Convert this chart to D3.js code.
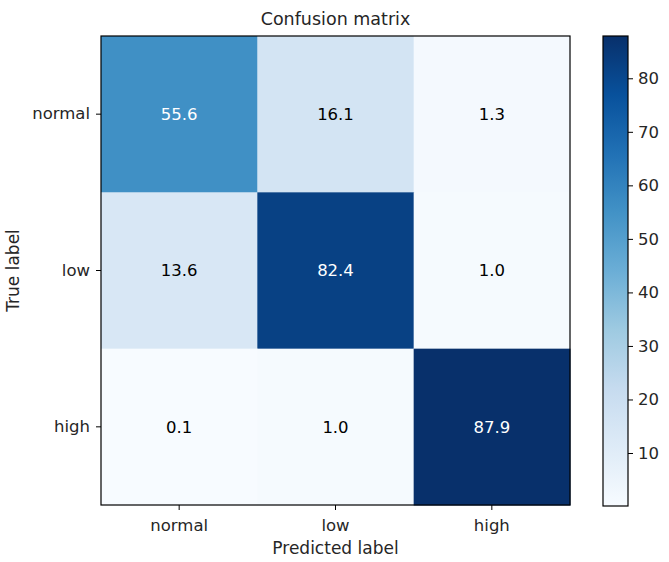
<!DOCTYPE html>
<html>
<head>
<meta charset="utf-8">
<script src="https://cdn.jsdelivr.net/npm/d3@7"></script>
<style>
  body { margin: 0; background: #fff; }
  text { font-family: "DejaVu Sans", sans-serif; fill: #262626; }
</style>
</head>
<body>
<svg id="chart" width="669" height="562"></svg>
<script>
// rows = true label, columns = predicted label
var classes = ["normal", "low", "high"];
var matrix = [
  [55.6, 16.1, 1.3],
  [13.6, 82.4, 1.0],
  [0.1, 1.0, 87.9]
];
var colorbarTicks = [10, 20, 30, 40, 50, 60, 70, 80];

// matplotlib "Blues" anchor colours
var bluesStops = ["#f7fbff", "#deebf7", "#c6dbef", "#9ecae1", "#6baed6", "#4292c6", "#2171b5", "#08519c", "#08306b"];

var svg = d3.select("#chart");

// note: "top" is window.top, so use other names
var plotLeft = 101, plotTop = 36, plotSize = 469;
var cbLeft = 603, cbWidth = 25, cbTop = 36, cbBottom = 506;

var cells = [];
matrix.forEach(function(row, i) {
  row.forEach(function(v, j) { cells.push({row: i, col: j, value: v}); });
});

var minV = d3.min(cells, d => d.value),
    maxV = d3.max(cells, d => d.value);

var color = d3.scaleLinear()
  .domain(bluesStops.map((c, k) => minV + (maxV - minV) * k / (bluesStops.length - 1)))
  .range(bluesStops)
  .interpolate(d3.interpolateRgb);

var x = d3.scaleBand().domain(d3.range(classes.length)).range([plotLeft, plotLeft + plotSize]);
var y = d3.scaleBand().domain(d3.range(classes.length)).range([plotTop, plotTop + plotSize]);

svg.append("g").selectAll("rect")
  .data(cells)
  .enter().append("rect")
  .attr("x", d => x(d.col))
  .attr("y", d => y(d.row))
  .attr("width", x.bandwidth() + 0.5)
  .attr("height", y.bandwidth() + 0.5)
  .attr("fill", d => color(d.value));

var thresh = maxV / 2;
svg.append("g").selectAll("text")
  .data(cells)
  .enter().append("text")
  .attr("x", d => x(d.col) + x.bandwidth() / 2)
  .attr("y", d => y(d.row) + y.bandwidth() / 2)
  .attr("text-anchor", "middle")
  .attr("dy", "0.36em")
  .style("font-size", "16.5px")
  .style("fill", d => d.value > thresh ? "#ffffff" : "#000000")
  .text(d => d.value.toFixed(1));

// axes
var xAxis = d3.axisBottom(x).tickSize(5).tickPadding(9).tickFormat(i => classes[i]);
var yAxis = d3.axisLeft(y).tickSize(5).tickPadding(6).tickFormat(i => classes[i]);

var gx = svg.append("g").attr("transform", "translate(0," + (plotTop + plotSize) + ")").call(xAxis);
var gy = svg.append("g").attr("transform", "translate(" + plotLeft + ",0)").call(yAxis);
[gx, gy].forEach(function(g) {
  g.select(".domain").remove();
  g.selectAll(".tick line").attr("stroke", "#000").attr("stroke-width", 1);
  g.selectAll(".tick text").style("font-size", "16.5px").style("font-family", "DejaVu Sans").attr("fill", "#262626");
});

svg.append("rect")
  .attr("x", plotLeft).attr("y", plotTop)
  .attr("width", plotSize).attr("height", plotSize)
  .attr("fill", "none").attr("stroke", "#000").attr("stroke-width", 1.2);

// titles
svg.append("text")
  .attr("x", plotLeft + plotSize / 2).attr("y", 25)
  .attr("text-anchor", "middle")
  .style("font-size", "17.5px")
  .text("Confusion matrix");

svg.append("text")
  .attr("x", plotLeft + plotSize / 2).attr("y", 554)
  .attr("text-anchor", "middle")
  .style("font-size", "17px")
  .text("Predicted label");

svg.append("text")
  .attr("transform", "translate(19," + (plotTop + plotSize / 2) + ") rotate(-90)")
  .attr("text-anchor", "middle")
  .style("font-size", "17px")
  .text("True label");

// colorbar
var cbScale = d3.scaleLinear().domain([minV, maxV]).range([cbBottom, cbTop]);

var grad = svg.append("defs").append("linearGradient")
  .attr("id", "cbgrad")
  .attr("x1", "0").attr("y1", "1").attr("x2", "0").attr("y2", "0");
grad.selectAll("stop")
  .data(bluesStops)
  .enter().append("stop")
  .attr("offset", (c, k) => k / (bluesStops.length - 1))
  .attr("stop-color", c => c);

svg.append("rect")
  .attr("x", cbLeft).attr("y", cbTop)
  .attr("width", cbWidth).attr("height", cbBottom - cbTop)
  .attr("fill", "url(#cbgrad)")
  .attr("stroke", "#000").attr("stroke-width", 1.2);

var cbAxis = d3.axisRight(cbScale).tickValues(colorbarTicks).tickSize(5).tickPadding(5);
var gc = svg.append("g").attr("transform", "translate(" + (cbLeft + cbWidth) + ",0)").call(cbAxis);
gc.select(".domain").remove();
gc.selectAll(".tick line").attr("stroke", "#000");
gc.selectAll(".tick text").style("font-size", "16.5px").style("font-family", "DejaVu Sans").attr("fill", "#262626");
</script>
</body>
</html>
